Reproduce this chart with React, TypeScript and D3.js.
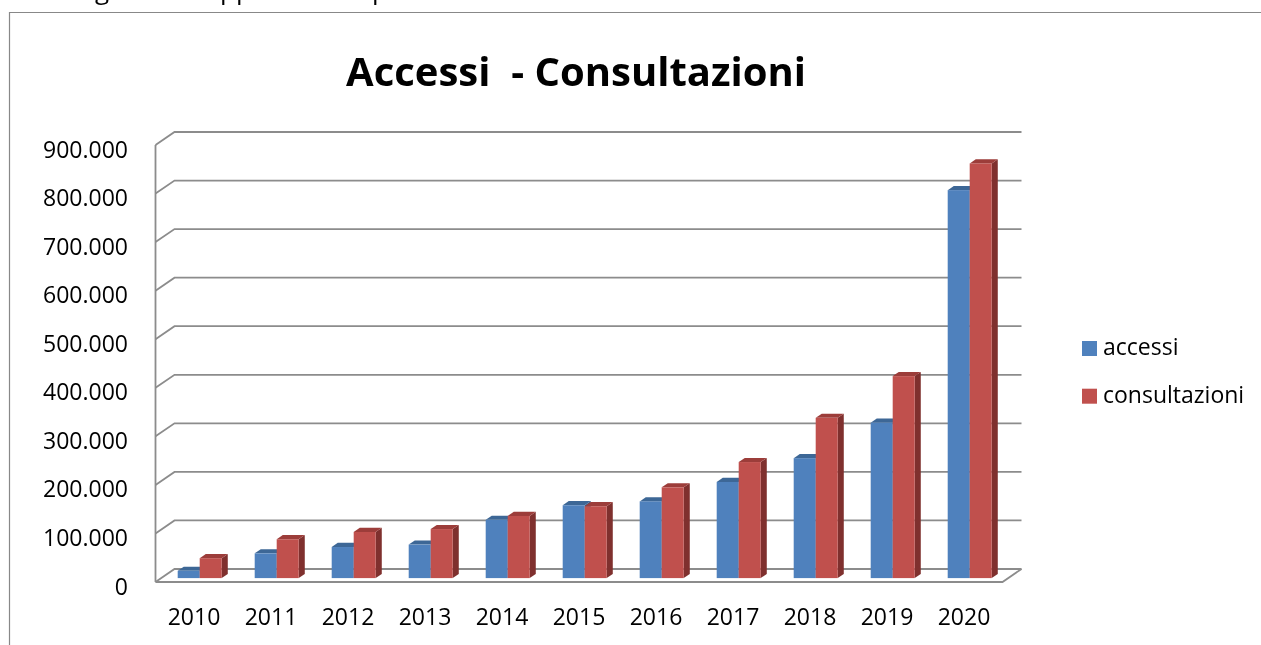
import React, { useEffect, useRef } from 'react';
import * as d3 from 'd3';

const years = ['2010', '2011', '2012', '2013', '2014', '2015', '2016', '2017', '2018', '2019', '2020'];
const accessi = [15000, 51000, 64000, 69000, 120000, 150000, 158000, 198000, 247000, 320000, 799000];
const consultazioni = [41000, 80000, 95000, 101000, 128000, 148000, 187000, 239000, 330000, 416000, 854000];
const yTicks = [0, 100000, 200000, 300000, 400000, 500000, 600000, 700000, 800000, 900000];
const seriesNames = ['accessi', 'consultazioni'];

const App = () => {
  const svgRef = useRef<SVGSVGElement>(null);

  useEffect(() => {
    const svg = d3.select(svgRef.current);
    svg.selectAll('*').remove();

    const width = 1261;
    const height = 645;
    const font = '"Open Sans", sans-serif';
    const depthX = 19;
    const depthY = 13;
    const gridColor = '#8c8c8c';

    svg.attr('width', width).attr('height', height);

    // cut-off line of the page text above the chart (only descenders show)
    const above = [
      { t: 'g', x: 95 },
      { t: 'pp', x: 220 },
      { t: 'p', x: 372 },
    ];
    svg.append('g')
      .selectAll('text')
      .data(above)
      .join('text')
      .attr('x', d => d.x)
      .attr('y', -1)
      .attr('font-family', font)
      .attr('font-size', 26)
      .text(d => d.t);

    // chart frame (runs past the window on right and bottom)
    svg.append('path')
      .attr('d', `M${width + 20},12.5H9.5V${height + 20}`)
      .attr('fill', 'none')
      .attr('stroke', '#888')
      .attr('stroke-width', 1.2);

    const x = d3.scaleBand<string>()
      .domain(years)
      .range([155.5, 1002.5]);

    const y = d3.scaleLinear()
      .domain([0, 900000])
      .range([582, 145]);

    const sub = d3.scaleBand<string>()
      .domain(seriesNames)
      .range([0, 44]);

    const itFmt = d3.formatLocale({ decimal: ',', thousands: '.', grouping: [3], currency: ['€', ''] }).format(',');

    // walls: side diagonals + back gridlines
    const grid = svg.append('g')
      .attr('fill', 'none')
      .attr('stroke', gridColor)
      .attr('stroke-width', 1.8);

    grid.selectAll('path.gl')
      .data(yTicks)
      .join('path')
      .attr('class', 'gl')
      .attr('d', d => `M${x.range()[0]},${y(d)}L${x.range()[0] + depthX},${y(d) - depthY}L${x.range()[1] + depthX},${y(d) - depthY}`);

    // left axis
    grid.append('path')
      .attr('d', `M${x.range()[0]},${y(900000)}L${x.range()[0]},${y(0)}`);

    // floor front edge
    grid.append('path')
      .attr('d', `M${x.range()[0]},${y(0)}L${x.range()[1]},${y(0)}L${x.range()[1] + depthX},${y(0) - depthY}`);

    // y tick labels
    svg.append('g')
      .selectAll('text')
      .data(yTicks)
      .join('text')
      .attr('x', 128)
      .attr('y', d => y(d) + 3.5)
      .attr('text-anchor', 'end')
      .attr('dominant-baseline', 'central')
      .attr('font-family', font)
      .attr('font-size', 23)
      .attr('fill', '#000')
      .text(d => itFmt(d));

    // x tick labels
    svg.append('g')
      .selectAll('text')
      .data(years)
      .join('text')
      .attr('x', d => x(d)! + x.bandwidth() / 2)
      .attr('y', 625)
      .attr('text-anchor', 'middle')
      .attr('font-family', font)
      .attr('font-size', 23)
      .attr('fill', '#000')
      .text(d => d);

    // 3D bars
    const f0 = 0.3;
    const f1 = 0.62;
    const colors = {
      accessi: { front: '#4f81bd', top: '#3d6796', side: '#385d8a' },
      consultazioni: { front: '#c0504d', top: '#9c3d3a', side: '#7f302e' },
    };
    const bars: { year: string; key: string; value: number }[] = [];
    years.forEach((yr, i) => {
      bars.push({ year: yr, key: 'accessi', value: accessi[i] });
      bars.push({ year: yr, key: 'consultazioni', value: consultazioni[i] });
    });

    const barG = svg.append('g');
    bars.forEach(b => {
      const c = colors[b.key as keyof typeof colors];
      const x0 = x(b.year)! + x.bandwidth() / 2 - 22 + sub(b.key)! + depthX * f0;
      const x1 = x0 + sub.bandwidth();
      const yb = y(0) - depthY * f0;
      const yt = y(b.value) - depthY * f0;
      const sx = depthX * (f1 - f0);
      const sy = depthY * (f1 - f0);
      const g = barG.append('g');
      g.append('path')
        .attr('d', `M${x1},${yt}L${x1 + sx},${yt - sy}L${x1 + sx},${yb - sy}L${x1},${yb}Z`)
        .attr('fill', c.side);
      g.append('path')
        .attr('d', `M${x0},${yt}L${x1},${yt}L${x1 + sx},${yt - sy}L${x0 + sx},${yt - sy}Z`)
        .attr('fill', c.top);
      g.append('rect')
        .attr('x', x0)
        .attr('y', yt)
        .attr('width', x1 - x0)
        .attr('height', yb - yt)
        .attr('fill', c.front);
    });

    // title
    svg.append('text')
      .attr('x', 576)
      .attr('y', 86)
      .attr('text-anchor', 'middle')
      .attr('font-family', font)
      .attr('font-weight', 'bold')
      .attr('font-size', 40)
      .style('white-space', 'pre')
      .text('Accessi  - Consultazioni');

    // legend
    const legend = svg.append('g')
      .selectAll('g')
      .data(seriesNames)
      .join('g')
      .attr('transform', (d, i) => `translate(1082,${341 + i * 47.7})`);

    legend.append('rect')
      .attr('width', 15)
      .attr('height', 15)
      .attr('fill', d => colors[d as keyof typeof colors].front);

    legend.append('text')
      .attr('x', 21)
      .attr('y', 14)
      .attr('font-family', font)
      .attr('font-size', 23)
      .text(d => d);
  }, []);

  return <svg ref={svgRef} style={{ position: 'fixed', left: 0, top: 0 }}></svg>;
};

export default App;
